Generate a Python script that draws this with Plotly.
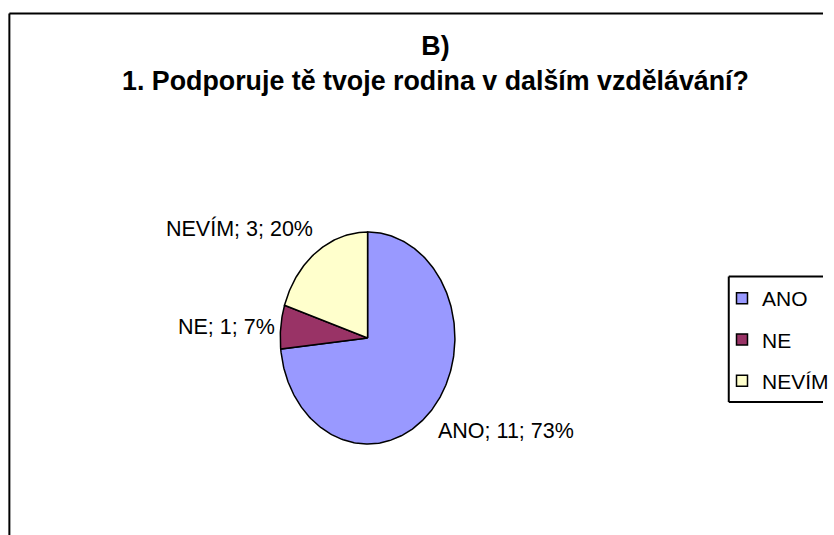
import numpy as np
import plotly.graph_objects as go

# ---- data ----
labels = ["ANO", "NE", "NEVÍM"]
values = [11, 1, 3]
colors = ["#9999FF", "#993366", "#FFFFCC"]
title_line1 = "B)"
title_line2 = "1. Podporuje tě tvoje rodina v dalším vzdělávání?"

W, H = 834, 535
FONT = "Liberation Sans, Arial, sans-serif"

# pie geometry (pixels): the pie is drawn as an ellipse, as in the reference
cx, cy = 372.5, 338.0
rx, ry = 88.5, 106.0

def px(x):
    return x / W

def py(y):
    return 1 - y / H

total = sum(values)
fig = go.Figure()

# slices drawn clockwise from 12 o'clock, computed from the values
start = 0.0
for lab, val, col in zip(labels, values, colors):
    frac = val / total
    n = max(int(400 * frac), 4)
    th = 2 * np.pi * np.linspace(start, start + frac, n)
    xs = np.concatenate([[0], np.sin(th), [0]])
    ys = np.concatenate([[0], np.cos(th), [0]])
    fig.add_trace(go.Scatter(
        x=xs, y=ys, mode="lines", fill="toself", fillcolor=col,
        line=dict(color="black", width=1.5), hoverinfo="text",
        text=f"{lab}; {val}", showlegend=False, legendgroup=lab,
    ))
    start += frac

# legend entries (square swatches)
for lab, col in zip(labels, colors):
    fig.add_trace(go.Scatter(
        x=[None], y=[None], mode="markers", name=lab, legendgroup=lab,
        marker=dict(symbol="square", size=11, color=col,
                    line=dict(color="black", width=1.5)),
    ))

# data labels "name; value; percent"
label_pos = {
    "NEVÍM": (319, 228, "right"),
    "NE": (281, 327, "right"),
    "ANO": (442, 431, "left"),
}
annotations = []
for lab, val in zip(labels, values):
    x, y, anchor = label_pos[lab]
    annotations.append(dict(
        x=px(x), y=py(y), xref="paper", yref="paper",
        text=f"{lab}; {val}; {round(100 * val / total)}%",
        showarrow=False, xanchor=anchor, yanchor="middle",
        font=dict(family=FONT, size=21.5, color="black"),
    ))

# title
annotations.append(dict(
    x=px(441), y=py(64), xref="paper", yref="paper",
    text=f"<b>{title_line1}</b><br><b>{title_line2}</b>",
    showarrow=False, xanchor="center", yanchor="middle",
    font=dict(family=FONT, size=26.8, color="black"),
))

def hline(x0, x1, y, color="black", width=2):
    return dict(type="line", xref="paper", yref="paper", x0=x0, x1=x1,
                y0=y, y1=y, line=dict(color=color, width=width))

def vline(x, y0, y1, color="black", width=2):
    return dict(type="line", xref="paper", yref="paper", x0=x, x1=x,
                y0=y0, y1=y1, line=dict(color=color, width=width))

shapes = [
    # chart area border (continues past the visible area)
    hline(px(9.5), 1, py(13.5)),
    vline(px(9.5), 0, py(13.5)),
    # legend box (continues past the right edge)
    hline(px(738.5), 1, py(276.5)),
    hline(px(738.5), 1, py(402)),
    vline(px(738.5), py(402), py(276.5)),
]

fig.update_layout(
    width=W, height=H,
    margin=dict(l=0, r=0, t=0, b=0),
    paper_bgcolor="white", plot_bgcolor="white",
    xaxis=dict(range=[-cx / rx, (W - cx) / rx], visible=False, fixedrange=True),
    yaxis=dict(range=[-(H - cy) / ry, cy / ry], visible=False, fixedrange=True),
    showlegend=True,
    legend=dict(
        x=px(732), y=py(278), xanchor="left", yanchor="top",
        borderwidth=0, bgcolor="rgba(0,0,0,0)",
        font=dict(family=FONT, size=21, color="black"),
        tracegroupgap=11, itemwidth=30,
    ),
    annotations=annotations,
    shapes=shapes,
)

fig.write_html(
    "out.html",
    config={"displayModeBar": False},
    post_script="document.body.style.margin='0';document.body.style.overflow='hidden';",
)
